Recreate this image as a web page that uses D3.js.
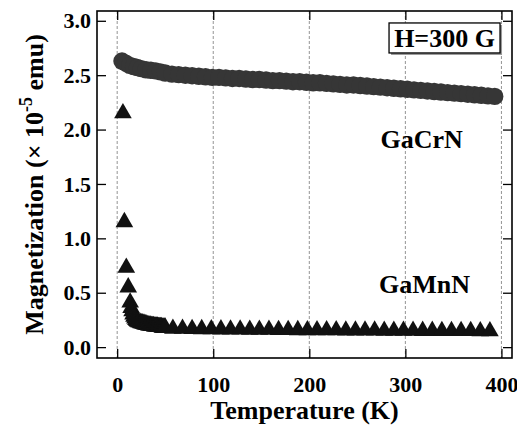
<!DOCTYPE html>
<html>
<head>
<meta charset="utf-8">
<script src="https://cdn.jsdelivr.net/npm/d3@7"></script>
<style>
  body { margin: 0; background: #fff; }
  text { font-family: "Liberation Serif", "Times New Roman", serif; font-weight: bold; }
</style>
</head>
<body>
<div id="chart"></div>
<script>
// GaCrN (circles) - temperature (K) and magnetization (x 10^-5 emu)
var crTemp = [5, 9, 13, 17, 21, 25, 30, 35, 40, 45, 50, 57, 64, 71, 78, 85, 92, 99, 106, 113,
  120, 127, 134, 141, 148, 155, 162, 169, 176, 183, 190, 197, 204, 211, 218, 225, 232, 239, 246, 253,
  260, 267, 274, 281, 288, 295, 302, 309, 316, 323, 330, 337, 344, 351, 358, 365, 372, 379, 386, 393]
var crMag = [2.63, 2.61, 2.59, 2.58, 2.57, 2.56, 2.55, 2.545, 2.54, 2.53, 2.52, 2.51, 2.505, 2.50, 2.495, 2.49, 2.485, 2.48, 2.48, 2.475,
  2.47, 2.47, 2.465, 2.46, 2.46, 2.455, 2.45, 2.45, 2.445, 2.44, 2.44, 2.435, 2.43, 2.43, 2.425, 2.42, 2.415, 2.41, 2.41, 2.405,
  2.40, 2.395, 2.39, 2.385, 2.38, 2.375, 2.37, 2.365, 2.36, 2.355, 2.35, 2.345, 2.34, 2.335, 2.33, 2.325, 2.32, 2.315, 2.31, 2.305]

// GaMnN (triangles)
var mnTemp = [6, 7.5, 9.5, 11.5, 13.5, 14.5, 15.5, 16.5, 17.5, 18.5, 19.5, 20.5, 21.5, 22.5, 24, 25, 26, 27, 28, 29, 30,
  31, 32, 33, 34, 35, 36, 37, 38, 39, 40, 41, 42, 43, 44, 45, 46, 47, 48, 49, 50,
  58, 68, 78, 88, 98, 108, 118, 128, 138, 148, 158, 168, 178, 188,
  198, 208, 218, 228, 238, 248, 258, 268, 278, 288, 298, 308, 318, 328, 338, 348, 358, 368, 378, 388]
var mnMag = [2.15, 1.15, 0.73, 0.55, 0.41, 0.36, 0.33, 0.30, 0.28, 0.265, 0.25, 0.24, 0.235, 0.23, 0.225, 0.22, 0.22, 0.215, 0.215, 0.21, 0.21,
  0.205, 0.205, 0.20, 0.20, 0.20, 0.195, 0.195, 0.195, 0.19, 0.19, 0.19, 0.19, 0.185, 0.185, 0.185, 0.185, 0.18, 0.18, 0.18, 0.18,
  0.17, 0.17, 0.168, 0.166, 0.165, 0.164, 0.163, 0.162, 0.161, 0.16, 0.16, 0.159, 0.158, 0.157,
  0.156, 0.156, 0.155, 0.155, 0.154, 0.154, 0.153, 0.153, 0.152, 0.152, 0.151, 0.151, 0.15, 0.15, 0.149, 0.149, 0.148, 0.148, 0.147, 0.147]

var xTicks = [0, 100, 200, 300, 400]
var yTicks = [0.0, 0.5, 1.0, 1.5, 2.0, 2.5, 3.0]

var W = 517, H = 427
var margin = {top: 11, right: 5, bottom: 69, left: 97},
    width = W - margin.left - margin.right,
    height = H - margin.top - margin.bottom

var svg = d3.select("#chart").append("svg")
    .attr("width", W).attr("height", H)
  .append("g")
    .attr("transform", "translate(" + margin.left + "," + margin.top + ")")

var x = d3.scaleLinear().domain([-21, 411]).range([0, width])
var y = d3.scaleLinear().domain([-0.1, 3.09]).range([height, 0])

// vertical dashed grid
svg.append("g").selectAll("line").data(xTicks).enter().append("line")
    .attr("x1", d => x(d)).attr("x2", d => x(d))
    .attr("y1", 0).attr("y2", height)
    .attr("stroke", "#777").attr("stroke-width", 0.8)
    .attr("stroke-dasharray", "3,2")

// axes with inward ticks
var tl = 9
var xAxis = svg.append("g").attr("transform", "translate(0," + height + ")")
    .call(d3.axisBottom(x).tickValues(xTicks).tickSizeInner(-tl).tickSizeOuter(0).tickPadding(tl + 9).tickFormat(d3.format("d")))
var xTop = svg.append("g")
    .call(d3.axisTop(x).tickValues(xTicks).tickSizeInner(-tl).tickSizeOuter(0).tickFormat(""))
var yAxis = svg.append("g")
    .call(d3.axisLeft(y).tickValues(yTicks).tickSizeInner(-tl).tickSizeOuter(0).tickPadding(6).tickFormat(d3.format(".1f")))
var yRight = svg.append("g").attr("transform", "translate(" + width + ",0)")
    .call(d3.axisRight(y).tickValues(yTicks).tickSizeInner(-tl).tickSizeOuter(0).tickFormat(""))

;[xAxis, xTop, yAxis, yRight].forEach(function(a) {
  a.select(".domain").remove()
  a.selectAll(".tick line").attr("stroke", "#000").attr("stroke-width", 1.3)
  a.selectAll("text").style("font-size", "22px").attr("fill", "#000")
    .style("font-family", "'Liberation Serif', serif").style("font-weight", "bold")
})
yAxis.selectAll("text").attr("x", -6)

// frame
svg.append("rect").attr("x", 0).attr("y", 0).attr("width", width).attr("height", height)
    .attr("fill", "none").attr("stroke", "#000").attr("stroke-width", 1.6)

// GaCrN circles
svg.append("g").selectAll("circle").data(crTemp).enter().append("circle")
    .attr("cx", d => x(d))
    .attr("cy", (d, i) => y(crMag[i]))
    .attr("r", 8.7)
    .attr("fill", "#363636")

// GaMnN triangles
var tri = d3.symbol().type(d3.symbolTriangle).size(135)
svg.append("g").selectAll("path").data(mnTemp).enter().append("path")
    .attr("d", tri)
    .attr("transform", (d, i) => "translate(" + x(d) + "," + y(mnMag[i]) + ")")
    .attr("fill", "#111")

// labels in plot
svg.append("text").attr("x", x(317)).attr("y", y(1.83)).attr("text-anchor", "middle")
    .style("font-size", "26px").text("GaCrN")
svg.append("text").attr("x", x(320)).attr("y", y(0.5)).attr("text-anchor", "middle")
    .style("font-size", "26px").text("GaMnN")

// H=300 G box
var bx = x(283), by = y(2.98), bw = 111, bh = 30
svg.append("rect").attr("x", bx + 2).attr("y", by + 2).attr("width", bw).attr("height", bh).attr("fill", "#999")
svg.append("rect").attr("x", bx).attr("y", by).attr("width", bw).attr("height", bh)
    .attr("fill", "#fff").attr("stroke", "#000").attr("stroke-width", 1.3)
svg.append("text").attr("x", bx + bw / 2).attr("y", by + bh / 2 + 9).attr("text-anchor", "middle")
    .style("font-size", "26px").text("H=300 G")

// axis titles
svg.append("text").attr("x", width / 2).attr("y", height + 61).attr("text-anchor", "middle")
    .style("font-size", "26px").text("Temperature (K)")

var yt = svg.append("text")
    .attr("transform", "translate(" + (-54) + "," + (height / 2) + ") rotate(-90)")
    .attr("text-anchor", "middle").style("font-size", "26px")
yt.append("tspan").text("Magnetization (\u00d7 10")
yt.append("tspan").attr("dy", -11).style("font-size", "18px").text("-5")
yt.append("tspan").attr("dy", 11).text(" emu)")
</script>
</body>
</html>
